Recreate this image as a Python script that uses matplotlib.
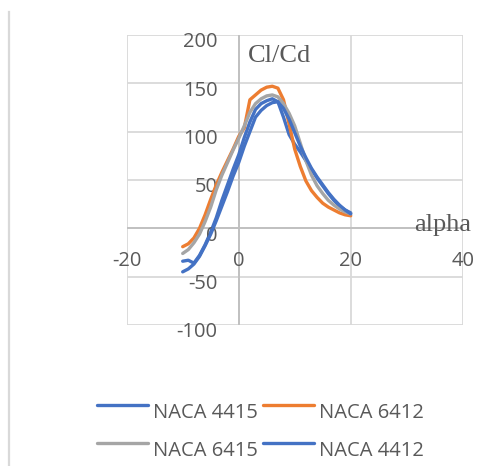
import matplotlib
matplotlib.use("Agg")
import matplotlib.pyplot as plt
from matplotlib.lines import Line2D

alpha = list(range(-10, 21))
naca4415 = [-34, -33, -36, -28, -17, -4, 11, 29, 45, 61, 76, 94, 110, 123, 129, 132, 134, 131,
            115, 97, 87, 79, 70, 61, 52, 44, 36, 29, 23, 19, 16]
naca6412 = [-19, -16, -10, 0, 14, 30, 45, 58, 70, 82, 95, 104, 133, 138, 143, 146, 147, 145,
            133, 108, 82, 64, 49, 39, 32, 26, 22, 19, 16, 14, 13]
naca6415 = [-26, -22, -15, -6, 7, 22, 40, 55, 68, 81, 93, 106, 120, 129, 134, 137, 138, 136,
            129, 119, 106, 88, 70, 55, 44, 36, 29, 24, 20, 17, 15]
naca4412 = [-45, -42, -37, -29, -18, -6, 8, 23, 38, 54, 68, 85, 100, 115, 122, 127, 130, 131,
            124, 113, 99, 85, 73, 62, 53, 45, 37, 30, 24, 19, 15]

series_names = ["NACA 4415", "NACA 6412", "NACA 6415", "NACA 4412"]
series_data = [naca4415, naca6412, naca6415, naca4412]
series_colors = ["#4472C4", "#ED7D31", "#A5A5A5", "#4472C4"]

x_ticks = [-20, 0, 20, 40]
y_ticks = [-100, -50, 0, 50, 100, 150, 200]

W, H = 498, 466
fig = plt.figure(figsize=(W / 100, H / 100), dpi=100)
ax = fig.add_axes([126.7 / W, 1 - 325 / H, (462.7 - 126.7) / W, (325 - 35) / H])
ax.set_xlim(-20, 40)
ax.set_ylim(-100, 200)
for s in ax.spines.values():
    s.set_visible(False)
ax.set_xticks(x_ticks)
ax.set_yticks(y_ticks)
ax.tick_params(length=0, labelleft=False, labelbottom=False)
ax.grid(True, color="#D9D9D9", linewidth=1.3)
ax.set_axisbelow(True)
ax.axhline(0, color="#BFBFBF", linewidth=1.3, zorder=1)
ax.axvline(0, color="#BFBFBF", linewidth=1.3, zorder=1)

draw_order = [1, 2, 0, 3]
for i in draw_order:
    ax.plot(alpha, series_data[i], color=series_colors[i], linewidth=2.4,
            solid_capstyle="round", zorder=3 + i)

txt_color = "#595959"
tick_font = dict(family="Open Sans", fontsize=14.5, color=txt_color)
for v in y_ticks:
    ax.text(-3.8, v - 7.5, str(v), ha="right", va="center", **tick_font)
for v in x_ticks:
    ax.text(v, -34, str(v), ha="center", va="center", **tick_font)

ax.text(1.6, 172, "Cl/Cd", family="Liberation Serif", fontsize=19, color=txt_color,
        ha="left", va="baseline")
ax.text(31.3, -3, "alpha", family="Liberation Serif", fontsize=19, color=txt_color,
        ha="left", va="baseline", clip_on=False)

fig.add_artist(Line2D([9 / W, 9 / W], [1 - 12 / H, 0], color="#D9D9D9", linewidth=1.6))

leg_pos = [(97, 405), (263, 405), (97, 443), (263, 443)]
for (lx, ly), name, col in zip(leg_pos, series_names, series_colors):
    fig.add_artist(Line2D([lx / W, (lx + 51) / W], [1 - ly / H, 1 - ly / H],
                          color=col, linewidth=2.4, solid_capstyle="round"))
    fig.text((lx + 56) / W, 1 - (ly + 7.5) / H, name, ha="left", va="center",
             family="Open Sans", fontsize=14.5, color=txt_color)

fig.savefig("out.png", dpi=100)
